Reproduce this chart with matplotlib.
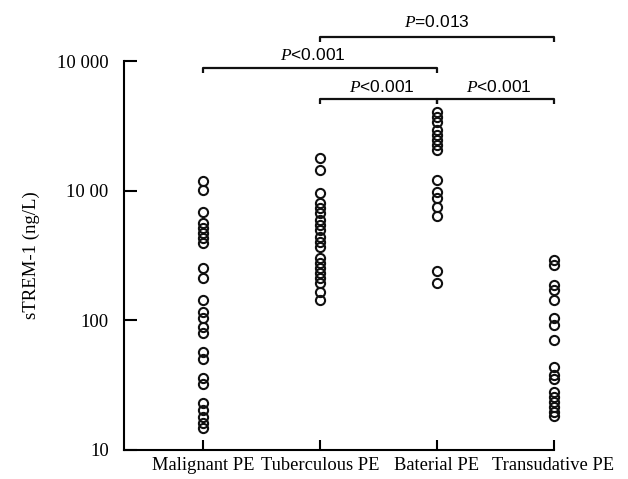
import matplotlib
matplotlib.use("Agg")
import matplotlib.pyplot as plt
import numpy as np

categories = ["Malignant PE", "Tuberculous PE", "Baterial PE", "Transudative PE"]
malignant = [1180, 1010, 690, 563, 516, 472, 432, 396, 254, 212, 144, 116, 104, 89, 80,
             57, 50, 36, 32, 23, 20.4, 18, 16.2, 14.8]
tuberculous = [1787, 1445, 960, 804, 736, 673, 595, 544, 498, 440, 402, 368, 303, 277,
               254, 232, 212, 194, 166, 144]
bacterial = [4045, 3700, 3388, 2938, 2687, 2459, 2250, 2060, 1210, 977, 880, 749, 638, 240, 194]
transudative = [292, 267, 187, 171, 144, 104, 92, 71, 44, 38, 35, 28, 25.7, 23.5, 21.5, 19.7, 18.3]
series = [malignant, tuberculous, bacterial, transudative]

ytick_values = [10, 100, 1000, 10000]
ytick_labels = ["10", "100", "10 00", "10 000"]

# comparisons: (group i, group j, label)
comparisons = [(1, 3, "=0.013"), (0, 2, "<0.001"), (1, 2, "<0.001"), (2, 3, "<0.001")]

plt.rcParams['mathtext.fontset'] = 'custom'
plt.rcParams['mathtext.it'] = 'Liberation Serif:italic'
plt.rcParams['mathtext.rm'] = 'Liberation Sans'

fig = plt.figure(figsize=(6.28, 4.79), dpi=100)
ax = fig.add_axes([124/628, 1-450/479, (553.5-124)/628, (450-61)/479])

for i, vals in enumerate(series):
    ax.plot(np.full(len(vals), i), vals, linestyle='none', marker='o', markersize=6.6,
            markerfacecolor='none', markeredgecolor='#111111', markeredgewidth=1.5,
            clip_on=False)

ax.set_yscale('log')
ax.set_ylim(10, 10000)
ax.set_xlim(-0.68, 3)
ax.set_yticks(ytick_values)
ax.set_yticklabels(ytick_labels, family='Liberation Serif', fontsize=13.5)
ax.yaxis.set_minor_locator(matplotlib.ticker.NullLocator())
ax.set_xticks(range(len(categories)))
ax.set_xticklabels(categories, family='Liberation Serif', fontsize=13.3)
ax.tick_params(axis='y', direction='in', length=9, width=1.5, pad=11)
ax.tick_params(axis='x', direction='in', length=7, width=1.5, pad=5)
ax.set_ylabel("sTREM-1 (ng/L)", family='Liberation Serif', fontsize=13.5, labelpad=12)
for s in ['top', 'right']:
    ax.spines[s].set_visible(False)
for s in ['left', 'bottom']:
    ax.spines[s].set_linewidth(1.5)

# brackets (y in data space above the top of the axis)
bracket_y = [15300, 8830, 5090, 5090]
label_y = [20100, 11100, 6340, 6340]
label_dx = [0, -0.06, 0.03, 0.03]
tick_h = 0.915
for (i, j, lab), by, ly, dx in zip(comparisons, bracket_y, label_y, label_dx):
    xs = [i, i, j, j]
    ys = [by*tick_h, by, by, by*tick_h]
    ax.plot(xs, ys, color='#111111', lw=1.6, clip_on=False, solid_capstyle='butt')
    ax.text((i+j)/2 + dx, ly, r"$\mathit{P}$" + lab, ha='center', va='center',
            family='Liberation Sans', fontsize=12.5, clip_on=False)

fig.savefig("out.png", dpi=100)
